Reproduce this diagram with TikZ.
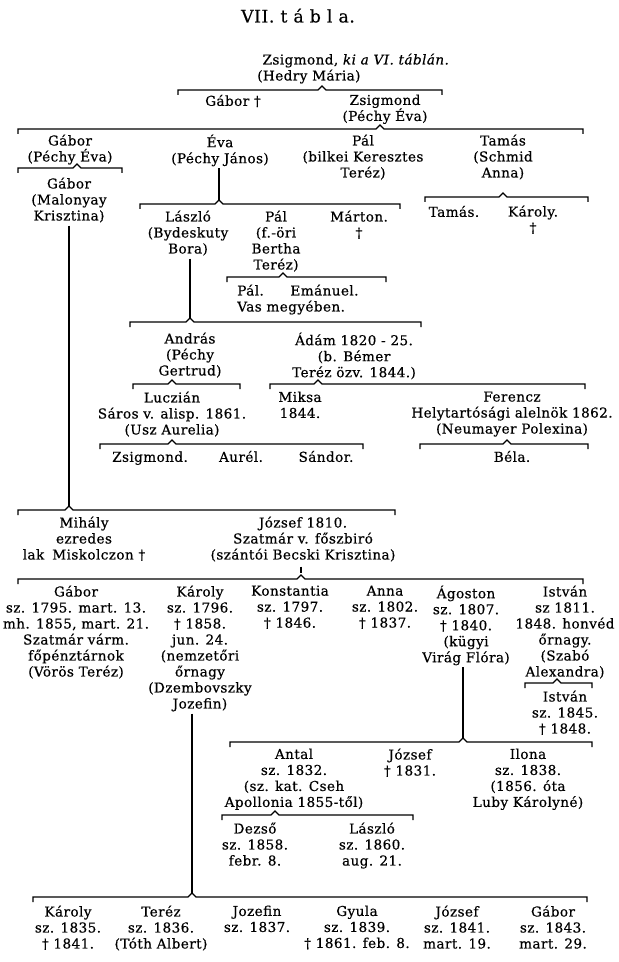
\documentclass[tikz,border=0pt]{standalone}
\usepackage{fontspec}
\setmainfont{DejaVu Serif}[LetterSpace=3,FakeBold=0.5]
\newcommand\persfont{\fontsize{10.2}{12}\selectfont}
\newcommand\ttlfont{\fontsize{13}{14}\selectfont}
% bracket: #1 left x, #2 right x, #3 caret x, #4 y, #5 name of caret coordinate
\newcommand\famBr[5]{%
  \coordinate (#5) at (#3,#4-4);
  \draw[ln] (#1,#4+5) -- (#1,#4) -- (#3-4,#4) -- (#5) -- (#3+4,#4) -- (#2,#4) -- (#2,#4+5);}
\begin{document}
\begin{tikzpicture}[x=0.75pt,y=-0.75pt,
  pers/.style={anchor=north,align=center,inner sep=0pt,font=\persfont,yshift=5pt,execute at begin node=\strut},
  ln/.style={line width=0.85pt,line join=miter}]
\fill[white] (0,0) rectangle (618,962);
\useasboundingbox (0,0) rectangle (618,962);

\node[pers] (title) at (298,15) {\ttlfont VII. t á b l a.};

\node[pers,anchor=north west,align=left] (zs0) at (257,60) {\hspace{4pt}Zsigmond, \textit{ki a VI. táblán.}\\(Hedry Mária)};
\famBr{178}{442}{322}{90}{b1}
\node[pers] (gabor1) at (233,101) {Gábor †};
\node[pers] (zs1) at (385,101) {Zsigmond\\(Péchy Éva)};
\famBr{18}{583}{380}{129}{b2}

\node[pers] (gabor2) at (70,141) {Gábor\\(Péchy Éva)};
\node[pers] (eva) at (220,141) {Éva\\(Péchy János)};
\node[pers] (pal1) at (363,141) {Pál\\(bilkei Keresztes\\Teréz)};
\node[pers] (tamas1) at (503,141) {Tamás\\(Schmid\\Anna)};
\famBr{18}{122}{77}{168}{b3}
\node[pers] (gabor3) at (69,184) {Gábor\\(Malonyay\\Krisztina)};
\famBr{140}{400}{219}{204}{b4}
\draw[ln] (eva.south -| b4) -- (b4);
\famBr{425}{588}{503}{197}{b5}
\node[pers] (tamas2) at (454,212) {Tamás.};
\node[pers] (karoly1) at (533,212) {Károly.\\†};

\node[pers] (laszlo1) at (188,217) {László\\(Bydeskuty\\Bora)};
\node[pers] (pal2) at (276,217) {Pál\\(f.-öri\\Bertha\\Teréz)};
\node[pers] (marton) at (359,217) {Márton.\\†};
\famBr{227}{386}{283}{277}{b6}
\node[pers,anchor=north west,align=left] (pal3) at (237,291) {Pál.\hspace{20pt}Emánuel.\\Vas megyében.};
\famBr{130}{421}{190}{322}{b7}
\draw[ln] (laszlo1.south -| b7) -- (b7);

\node[pers] (andras) at (190,339) {András\\(Péchy\\Gertrud)};
\node[pers] (adam) at (354,339) {Ádám 1820 - 25.\\(b. Bémer\\Teréz özv. 1844.)};
\famBr{133}{240}{172}{384}{b8}
\famBr{270}{585}{318}{384}{b9}
\node[pers] (luczian) at (172,398) {Luczián\\Sáros v. alisp. 1861.\\(Usz Aurelia)};
\node[pers] (miksa) at (300,398) {Miksa\\1844.};
\node[pers] (ferencz) at (512,398) {Ferencz\\Helytartósági alelnök 1862.\\(Neumayer Polexina)};
\famBr{100}{363}{172}{444}{b10}
\famBr{420}{588}{507}{444}{b11}
\node[pers] (zs2) at (150,457) {Zsigmond.};
\node[pers] (aurel) at (241,457) {Aurél.};
\node[pers] (sandor) at (326,457) {Sándor.};
\node[pers] (bela) at (512,457) {Béla.};

\famBr{18}{395}{69}{510}{b12}
\draw[ln] (gabor3.south -| b12) -- (b12);
\node[pers] (mihaly) at (84,523) {Mihály\\ezredes\\lak\hspace{6pt}Miskolczon †};
\node[pers] (jozsef1) at (303,523) {József 1810.\\Szatmár v. főszbiró\\(szántói Becski Krisztina)};
\famBr{18}{583}{301}{579}{b13}
\path (jozsef1.south -| b13) coordinate (jt);
\draw[ln] (jt) ++(0,2) -- ++(0,6);

\node[pers] (gabor4) at (76,592) {Gábor\\sz. 1795. mart. 13.\\mh. 1855, mart. 21.\\Szatmár várm.\\főpénztárnok\\(Vörös Teréz)};
\node[pers] (karoly2) at (200,592) {Károly\\sz. 1796.\\† 1858.\\jun. 24.\\(nemzetőri\\őrnagy\\(Dzembovszky\\Jozefin)};
\node[pers] (konst) at (290,592) {Konstantia\\sz. 1797.\\† 1846.};
\node[pers] (anna) at (385,592) {Anna\\sz. 1802.\\† 1837.};
\node[pers] (agoston) at (466,592) {Ágoston\\sz. 1807.\\† 1840.\\(kügyi\\Virág Flóra)};
\node[pers] (istvan1) at (565,592) {István\\sz 1811.\\1848. honvéd\\őrnagy.\\(Szabó\\Alexandra)};
\famBr{525}{592}{557}{683}{b14}
\node[pers] (istvan2) at (565,697) {István\\sz. 1845.\\† 1848.};

\famBr{230}{592}{463}{742}{b15}
\draw[ln] (agoston.south -| b15) -- (b15);
\node[pers] (antal) at (294,755) {Antal\\sz. 1832.\\(sz. kat. Cseh\\Apollonia 1855-től)};
\node[pers] (jozsef2) at (410,755) {József\\† 1831.};
\node[pers] (ilona) at (528,755) {Ilona\\sz. 1838.\\(1856. óta\\Luby Károlyné)};
\famBr{222}{413}{275}{815}{b16}
\node[pers] (dezso) at (255,829) {Dezső\\sz. 1858.\\febr. 8.};
\node[pers] (laszlo2) at (372,829) {László\\sz. 1860.\\aug. 21.};

\famBr{33}{587}{192}{897}{b17}
\draw[ln] (karoly2.south -| b17) -- (b17);
\node[pers] (karoly3) at (68,912) {Károly\\sz. 1835.\\† 1841.};
\node[pers] (terez) at (161,912) {Teréz\\sz. 1836.\\(Tóth Albert)};
\node[pers] (jozefin) at (257,912) {Jozefin\\sz. 1837.};
\node[pers] (gyula) at (357,912) {Gyula\\sz. 1839.\\† 1861. feb. 8.};
\node[pers] (jozsef3) at (457,912) {József\\sz. 1841.\\mart. 19.};
\node[pers] (gabor5) at (553,912) {Gábor\\sz. 1843.\\mart. 29.};
\end{tikzpicture}
\end{document}
